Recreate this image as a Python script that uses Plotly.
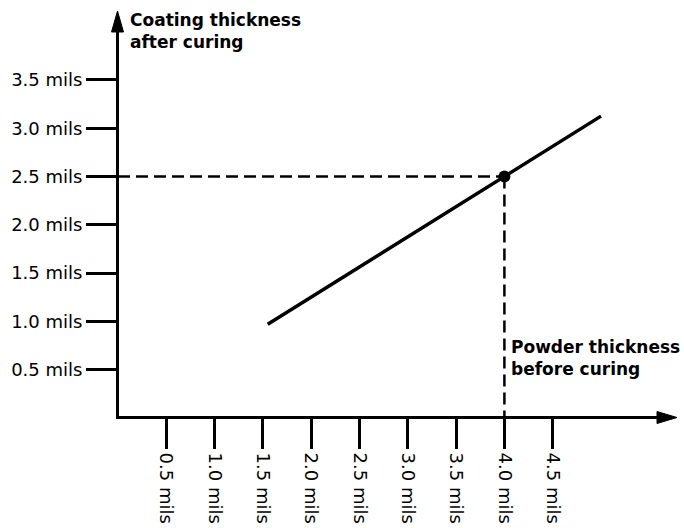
import plotly.graph_objects as go

# ---- data ----
x_ticks = [0.5, 1.0, 1.5, 2.0, 2.5, 3.0, 3.5, 4.0, 4.5]
y_ticks = [0.5, 1.0, 1.5, 2.0, 2.5, 3.0, 3.5]
x_tick_labels = [f"{v:.1f} mils" for v in x_ticks]
y_tick_labels = [f"{v:.1f} mils" for v in y_ticks]
powder_line = [1.55, 5.0]      # powder thickness before curing (mils)
coating_line = [0.97, 3.125]   # coating thickness after curing (mils)
point_powder = [4.0]
point_coating = [2.5]
x_title = "Powder thickness<br>before curing"
y_title = "Coating thickness<br>after curing"

# ---- layout geometry (pixels) ----
W, H = 684, 528
L, R, T, B = 119, 24, 30, 112
pw, ph = W - L - R, H - T - B
scale = 96.6             # px per mil
x0_px, y0_px = 118, 418  # pixel position of value 0 on each axis
x_min = (L - x0_px) / scale
x_max = x_min + pw / scale
y_min = (y0_px - (T + ph)) / scale
y_max = y_min + ph / scale

font = "DejaVu Sans, Verdana, sans-serif"

fig = go.Figure()

# guide dashed lines
fig.add_trace(go.Scatter(
    x=[0, point_powder[0]], y=[point_coating[0], point_coating[0]],
    mode="lines", line=dict(color="black", width=2.5, dash="12px,6px"),
    hoverinfo="skip", showlegend=False))
fig.add_trace(go.Scatter(
    x=[point_powder[0], point_powder[0]], y=[point_coating[0], 0],
    mode="lines", line=dict(color="black", width=2.5, dash="12px,6px"),
    hoverinfo="skip", showlegend=False))

# main line
fig.add_trace(go.Scatter(
    x=powder_line, y=coating_line, mode="lines",
    line=dict(color="black", width=3.5), showlegend=False))

# point
fig.add_trace(go.Scatter(
    x=point_powder, y=point_coating, mode="markers",
    marker=dict(color="black", size=12), showlegend=False, cliponaxis=False))

def px2paper_x(px):
    return (px - L) / pw

def px2paper_y(py):
    return (T + ph - py) / ph

# arrow heads
xa_base, xa_tip, xa_y, half = 657, 677, 417.5, 6
ya_x, ya_tip, ya_base = 117.5, 11, 32
shapes = [
    dict(type="path", xref="paper", yref="paper",
         path=f"M {px2paper_x(xa_base)},{px2paper_y(xa_y - half)} "
              f"L {px2paper_x(xa_tip)},{px2paper_y(xa_y)} "
              f"L {px2paper_x(xa_base)},{px2paper_y(xa_y + half)} Z",
         fillcolor="black", line=dict(color="black", width=1)),
    dict(type="path", xref="paper", yref="paper",
         path=f"M {px2paper_x(ya_x - half)},{px2paper_y(ya_base)} "
              f"L {px2paper_x(ya_x)},{px2paper_y(ya_tip)} "
              f"L {px2paper_x(ya_x + half)},{px2paper_y(ya_base)} Z",
         fillcolor="black", line=dict(color="black", width=1)),
]

annotations = [
    dict(text=f"<b>{y_title}</b>", xref="paper", yref="paper",
         x=px2paper_x(128), y=px2paper_y(31),
         xanchor="left", yanchor="middle", align="left", showarrow=False,
         font=dict(family=font, size=17, color="black")),
    dict(text=f"<b>{x_title}</b>", xref="paper", yref="paper",
         x=px2paper_x(509), y=px2paper_y(358),
         xanchor="left", yanchor="middle", align="left", showarrow=False,
         font=dict(family=font, size=17, color="black")),
]

fig.update_layout(
    width=W, height=H,
    margin=dict(l=L, r=R, t=T, b=B, pad=0, autoexpand=False),
    paper_bgcolor="white", plot_bgcolor="white",
    font=dict(family=font, size=18, color="black"),
    shapes=shapes, annotations=annotations,
    xaxis=dict(range=[x_min, x_max], showgrid=False, zeroline=False,
               automargin=False,
               showline=True, linecolor="black", linewidth=3,
               ticks="outside", ticklen=30, tickwidth=2.5, tickcolor="black",
               tickvals=x_ticks, ticktext=x_tick_labels, tickangle=90,
               tickfont=dict(family=font, size=18, color="black"),
               fixedrange=True),
    yaxis=dict(range=[y_min, y_max], showgrid=False, zeroline=False,
               automargin=False,
               showline=True, linecolor="black", linewidth=3,
               ticks="outside", ticklen=30, tickwidth=2.5, tickcolor="black",
               tickvals=y_ticks, ticktext=y_tick_labels,
               tickfont=dict(family=font, size=18, color="black"),
               fixedrange=True),
)

fig.write_html(
    "out.html",
    config={"displayModeBar": False},
    post_script="document.body.style.margin='0';document.body.style.overflow='hidden';",
)
